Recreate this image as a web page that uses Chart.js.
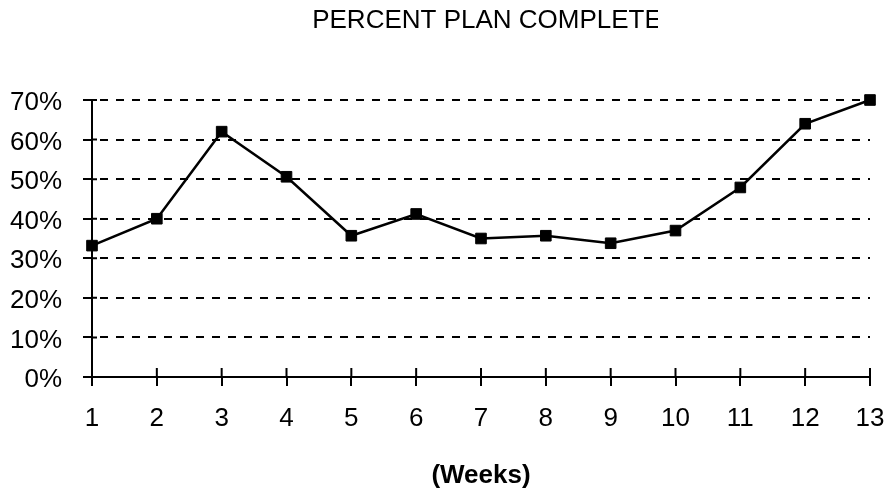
<!DOCTYPE html>
<html>
<head>
<meta charset="utf-8">
<script src="https://cdn.jsdelivr.net/npm/chart.js@4.4.0/dist/chart.umd.min.js"></script>
<style>
    html, body { margin: 0; padding: 0; background: #fff; }
    #chart_area { width: 884px; height: 491px; }
</style>
</head>
<body>
<div id="chart_area"><canvas id="plan" width="884" height="491"></canvas></div>
<script>
// Chart data
var chartName = "PERCENT PLAN COMPLETE";
var axisName = "(Weeks)";
var weekLabels = ["1", "2", "3", "4", "5", "6", "7", "8", "9", "10", "11", "12", "13"];
var percentComplete = [33.2, 40, 62, 50.6, 35.7, 41.2, 35, 35.7, 33.8, 37, 47.9, 64, 70];
var percentTicks = [0, 10, 20, 30, 40, 50, 60, 70];

var fontName = "'Liberation Sans', Arial, sans-serif";

/**
 * Draws the title (cut off at the right like the original) and the
 * small tick marks that poke through the axes.
 */
var extrasPlugin = {
    id: "extras",
    afterDraw: function (chart) {
        const ctx = chart.ctx;
        const area = chart.chartArea;
        const xScale = chart.scales.x;
        const yScale = chart.scales.y;

        // Title, clipped on the right side
        ctx.save();
        ctx.beginPath();
        ctx.rect(0, 0, 658, 60);
        ctx.clip();
        ctx.fillStyle = "#000";
        ctx.font = "26px " + fontName;
        ctx.textAlign = "center";
        ctx.textBaseline = "middle";
        ctx.fillText(chartName, (area.left + area.right) / 2 + 6, 21);
        ctx.restore();

        // Inner half of the tick marks on both axes
        ctx.save();
        ctx.strokeStyle = "#000";
        ctx.lineWidth = 2;
        ctx.beginPath();
        for (var i = 0; i < weekLabels.length; i++) {
            var px = xScale.getPixelForTick(i);
            ctx.moveTo(px, area.bottom - 9);
            ctx.lineTo(px, area.bottom);
        }
        for (var j = 0; j < percentTicks.length; j++) {
            var py = yScale.getPixelForValue(percentTicks[j]);
            ctx.moveTo(area.left, py);
            ctx.lineTo(area.left + 5, py);
        }
        ctx.stroke();
        ctx.restore();
    }
};

new Chart("plan", {
    type: "line",
    data: {
        labels: weekLabels,
        datasets: [{
            data: percentComplete,
            borderColor: "#000",
            backgroundColor: "#000",
            borderWidth: 2.5,
            pointStyle: "rect",
            pointRadius: 7.5,
            pointBorderWidth: 1,
            tension: 0,
            clip: false
        }]
    },
    options: {
        responsive: false,
        animation: false,
        devicePixelRatio: 1,
        layout: { padding: { top: 100, right: 14, left: 0, bottom: 0 } },
        plugins: {
            legend: { display: false },
            title: { display: false },
            tooltip: { enabled: false }
        },
        scales: {
            x: {
                type: "category",
                offset: false,
                grid: {
                    display: true,
                    drawOnChartArea: false,
                    drawTicks: true,
                    tickLength: 9,
                    color: "#000",
                    lineWidth: 2
                },
                border: { display: true, color: "#000", width: 2 },
                ticks: {
                    color: "#000",
                    padding: 17,
                    maxRotation: 0,
                    autoSkip: false,
                    font: { family: fontName, size: 26 }
                },
                title: {
                    display: true,
                    text: axisName,
                    color: "#000",
                    padding: { top: 10, bottom: 0 },
                    font: { family: fontName, size: 26, weight: "bold" }
                },
                afterFit: function (scale) {
                    scale.height = 114;
                    scale.paddingLeft = 0;
                    scale.paddingRight = 0;
                }
            },
            y: {
                min: 0,
                max: 70,
                afterBuildTicks: function (scale) {
                    scale.ticks = percentTicks.map(function (v) { return { value: v }; });
                },
                grid: {
                    color: "#000",
                    lineWidth: 2,
                    drawTicks: true,
                    tickLength: 9
                },
                border: { display: true, color: "#000", width: 2, dash: [8, 8], dashOffset: -7 },
                ticks: {
                    color: "#000",
                    padding: 21,
                    labelOffset: 3,
                    font: { family: fontName, size: 26 },
                    callback: function (v) { return v + "%"; }
                },
                afterFit: function (scale) { scale.width = 92; }
            }
        }
    },
    plugins: [extrasPlugin]
});
</script>
</body>
</html>
